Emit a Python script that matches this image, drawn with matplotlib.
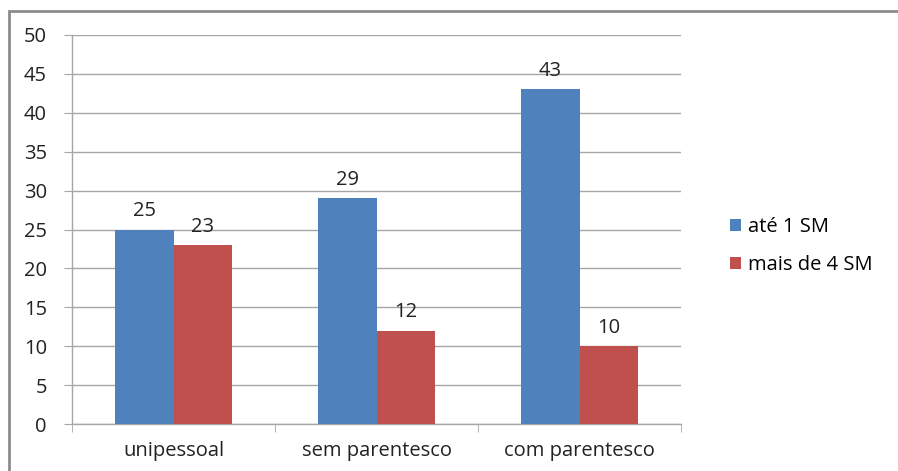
import matplotlib.pyplot as plt
import numpy as np
from matplotlib.patches import Rectangle

categories = ['unipessoal', 'sem parentesco', 'com parentesco']
series_names = ['até 1 SM', 'mais de 4 SM']
ate_1sm = [25, 29, 43]
mais_4sm = [23, 12, 10]
yticks = [0, 5, 10, 15, 20, 25, 30, 35, 40, 45, 50]

blue = '#4F81BD'
red = '#C0504D'
grid_col = '#A6A6A6'
txt = '#222222'

plt.rcParams['font.family'] = ['Open Sans', 'DejaVu Sans']
plt.rcParams['font.size'] = 14.5

fig = plt.figure(figsize=(8.98, 4.71), dpi=100)
ax = fig.add_axes([72 / 898, 1 - 424 / 471, (681 - 72) / 898, (424 - 35) / 471])

# chart frame (cropped at right and bottom in the reference)
fig.patches.append(Rectangle((9 / 898, -0.05), 1.2, 1 - 11 / 471 + 0.05,
                             transform=fig.transFigure, fill=False,
                             edgecolor='#8C8C8C', linewidth=2))

x = np.arange(len(categories))
w = 0.286
b1 = ax.bar(x - w / 2, ate_1sm, width=w, color=blue, label=series_names[0], zorder=3)
b2 = ax.bar(x + w / 2, mais_4sm, width=w, color=red, label=series_names[1], zorder=3)

for bars in (b1, b2):
    for r in bars:
        ax.annotate(f'{int(r.get_height())}', (r.get_x() + r.get_width() / 2, r.get_height()),
                    xytext=(0, 6), textcoords='offset points', ha='center', va='bottom',
                    color=txt)

ax.set_xlim(-0.5, len(categories) - 0.5)
ax.set_ylim(0, 50)
ax.set_yticks(yticks)
ax.yaxis.grid(True, color=grid_col, linewidth=1, zorder=0)
ax.set_axisbelow(True)

ax.set_xticks(x)
ax.set_xticklabels(categories, color=txt)
ax.tick_params(axis='x', length=0, pad=12)
ax.set_xticks(np.arange(len(categories) + 1) - 0.5, minor=True)
ax.tick_params(axis='x', which='minor', length=6, color=grid_col, direction='out')
ax.tick_params(axis='y', length=6, color=grid_col, pad=12, labelcolor=txt)

for s in ['top', 'right']:
    ax.spines[s].set_visible(False)
for s in ['left', 'bottom']:
    ax.spines[s].set_color(grid_col)
    ax.spines[s].set_linewidth(1)

fig.legend(loc='center left', bbox_to_anchor=(712 / 898, 1 - 246 / 471), frameon=False,
           handlelength=0.55, handleheight=0.55, handletextpad=0.35, labelspacing=0.9)

fig.savefig('out.png', dpi=100)
